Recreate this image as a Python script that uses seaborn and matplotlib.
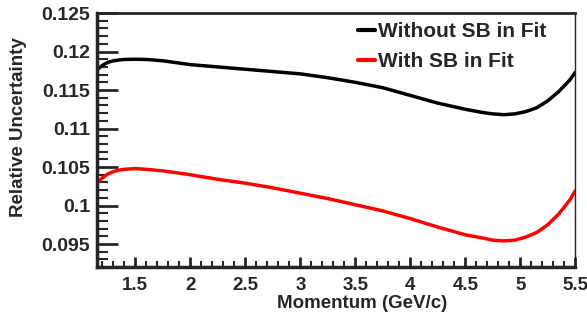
import matplotlib
matplotlib.use("Agg")
import matplotlib.pyplot as plt
from matplotlib.ticker import MultipleLocator
import seaborn as sns
import pandas as pd

# values
momentum = [1.15, 1.2, 1.25, 1.3, 1.35, 1.4, 1.5, 1.6, 1.75, 2.0, 2.25, 2.5,
            2.75, 3.0, 3.25, 3.5, 3.75, 4.0, 4.25, 4.5, 4.65, 4.75, 4.85, 4.95,
            5.05, 5.15, 5.25, 5.35, 5.45, 5.5]
without_sb = [0.1176, 0.1182, 0.1186, 0.1188, 0.1189, 0.11897, 0.1190, 0.11897,
              0.1188, 0.1183, 0.1180, 0.1177, 0.1174, 0.1171, 0.1166, 0.1160,
              0.1153, 0.1143, 0.1133, 0.1125, 0.1121, 0.1119, 0.1118, 0.1119,
              0.1122, 0.1127, 0.1136, 0.1148, 0.1163, 0.1173]
with_sb = [0.1029, 0.1036, 0.1041, 0.1044, 0.1046, 0.1047, 0.1048, 0.1047,
           0.1045, 0.1040, 0.1034, 0.1029, 0.1023, 0.1016, 0.1009, 0.1001,
           0.0993, 0.0983, 0.0972, 0.0962, 0.0958, 0.0955, 0.0954, 0.0955,
           0.0959, 0.0965, 0.0975, 0.0989, 0.1007, 0.1019]
series_names = ["Without SB in Fit", "With SB in Fit"]
series_colors = ["black", "red"]

sns.set_theme(style="ticks")
plt.rcParams['font.family'] = ['Liberation Sans', 'DejaVu Sans']
plt.rcParams['font.weight'] = 'bold'

df = pd.DataFrame({
    "Momentum": momentum * 2,
    "Uncertainty": without_sb + with_sb,
    "Series": [series_names[0]] * len(momentum) + [series_names[1]] * len(momentum),
})

fig = plt.figure(figsize=(5.87, 3.18), dpi=100)
ax = fig.add_axes([0.165, 0.160, 0.815, 0.799])

sns.lineplot(data=df, x="Momentum", y="Uncertainty", hue="Series",
             palette=dict(zip(series_names, series_colors)), linewidth=2.5,
             ax=ax, legend=True)

ax.set_xlim(1.15, 5.5)
ax.set_ylim(0.092, 0.125)

# ROOT style ticks: inside, major + minor on left/bottom only
ax.xaxis.set_major_locator(MultipleLocator(0.5))
ax.xaxis.set_minor_locator(MultipleLocator(0.1))
ax.yaxis.set_major_locator(MultipleLocator(0.005))
ax.yaxis.set_minor_locator(MultipleLocator(0.001))
ax.tick_params(axis='x', which='major', direction='in', length=7, width=2, labelsize=13.5, pad=7)
ax.tick_params(axis='x', which='minor', direction='in', length=4, width=1.5)
ax.tick_params(axis='y', which='major', direction='in', length=15, width=2, labelsize=14, pad=5)
ax.tick_params(axis='y', which='minor', direction='in', length=8, width=1.5)
ax.set_xticklabels([f"{t:g}" for t in ax.get_xticks()], fontweight='bold')
ax.set_yticklabels([f"{t:g}" for t in ax.get_yticks()], fontweight='bold')

for side in ['left', 'bottom']:
    ax.spines[side].set_linewidth(2.5)
ax.spines['top'].set_linewidth(2)
ax.spines['right'].set_linewidth(1)

ax.set_xlabel("Momentum (GeV/c)", fontsize=13.5, fontweight='bold')
ax.set_ylabel("Relative Uncertainty", fontsize=13.5, fontweight='bold')
ax.xaxis.set_label_coords(0.555, -0.11)
ax.yaxis.set_label_coords(-0.145, 0.55)

leg = ax.legend(loc='upper left', frameon=False, fontsize=15, handlelength=0.8,
                handletextpad=0.15, labelspacing=0.55, borderpad=0,
                borderaxespad=0, bbox_to_anchor=(0.546, 0.965))
for t in leg.get_texts():
    t.set_fontweight('bold')
for h in leg.get_lines():
    h.set_linewidth(3)

fig.savefig("out.png", dpi=100)
